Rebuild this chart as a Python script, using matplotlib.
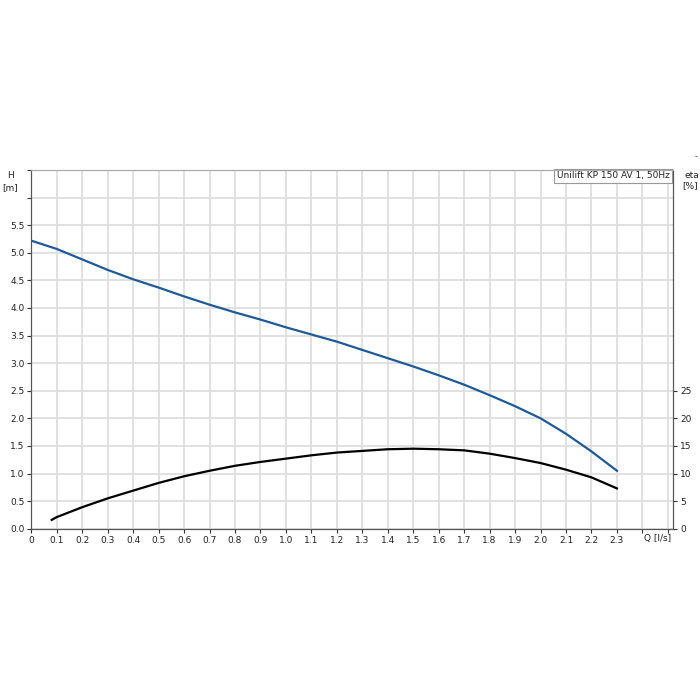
import matplotlib.pyplot as plt
import numpy as np

plt.rcParams['font.family'] = ['DejaVu Sans']

# flow Q [l/s]
q_head = [0.0, 0.1, 0.2, 0.3, 0.4, 0.5, 0.6, 0.7, 0.8, 0.9, 1.0, 1.1, 1.2,
          1.3, 1.4, 1.5, 1.6, 1.7, 1.8, 1.9, 2.0, 2.1, 2.2, 2.3]
# head H [m]
head = [5.22, 5.07, 4.88, 4.69, 4.52, 4.37, 4.21, 4.06, 3.92, 3.79, 3.65, 3.52, 3.39,
        3.24, 3.09, 2.94, 2.78, 2.61, 2.42, 2.22, 2.00, 1.72, 1.40, 1.05]

q_eta = [0.08, 0.1, 0.2, 0.3, 0.4, 0.5, 0.6, 0.7, 0.8, 0.9, 1.0, 1.1, 1.2,
         1.3, 1.4, 1.5, 1.6, 1.7, 1.8, 1.9, 2.0, 2.1, 2.2, 2.3]
# efficiency eta [%]
eta = [1.6, 2.1, 3.9, 5.5, 6.9, 8.3, 9.5, 10.5, 11.4, 12.1, 12.7, 13.3, 13.8,
       14.1, 14.4, 14.5, 14.4, 14.2, 13.6, 12.8, 11.9, 10.7, 9.3, 7.3]

x_ticks = [round(0.1 * i, 1) for i in range(26)]
x_labels = ['0'] + ['%.1f' % v for v in x_ticks[1:24]] + ['', '']
h_ticks = [0.5 * i for i in range(14)]
h_labels = ['%.1f' % v for v in h_ticks[:12]] + ['', '']
eta_ticks = [0, 5, 10, 15, 20, 25]

fig = plt.figure(figsize=(7, 7), dpi=100)
ax = fig.add_axes([0.0447, 0.2447, 0.9167, 0.5124])
ax2 = ax.twinx()

ax.set_xlim(0, 2.52)
ax.set_ylim(0, 6.5)
ax2.set_ylim(0, 65)

ax.set_xticks(x_ticks)
ax.set_xticklabels(x_labels)
ax.set_yticks(h_ticks)
ax.set_yticklabels(h_labels)
ax2.set_yticks(eta_ticks)

ax.grid(True, color='#dedede', linewidth=1.3)
ax.set_axisbelow(True)

ax.plot(q_head, head, color='#1f5a96', linewidth=1.6, solid_joinstyle='round')
ax2.plot(q_eta, eta, color='black', linewidth=1.6, solid_joinstyle='round')

for a in (ax, ax2):
    a.tick_params(labelsize=6.5, colors='#333333', length=3, width=0.8,
                  labelcolor='#222222', pad=2)
    a.spines['top'].set_color('#aaaaaa')
    a.spines['left'].set_color('#555555')
    a.spines['bottom'].set_color('#555555')
    a.spines['right'].set_color('#555555')

# axis captions
fig.text(10 / 700, 1 - 175 / 700, 'H', fontsize=6.5, ha='center', va='center', color='#222222')
fig.text(10 / 700, 1 - 188 / 700, '[m]', fontsize=6.5, ha='center', va='center', color='#222222')
fig.text(692 / 700, 1 - 175 / 700, 'eta', fontsize=6.5, ha='center', va='center', color='#222222')
fig.text(690 / 700, 1 - 186 / 700, '[%]', fontsize=6.5, ha='center', va='center', color='#222222')
fig.text(696 / 700, 1 - 157 / 700, '-', fontsize=6, ha='center', va='center', color='#444444')
ax.text(2.46, -0.0145, 'Q [l/s]', transform=ax.get_xaxis_transform(), fontsize=6.5,
        ha='center', va='top', color='#222222')

ax.text(0.9945, 0.996, 'Unilift KP 150 AV 1, 50Hz', transform=ax.transAxes,
        fontsize=6.5, ha='right', va='top', color='#222222', zorder=5,
        bbox=dict(boxstyle='square,pad=0.25', facecolor='white', edgecolor='#999999',
                  linewidth=0.8))

plt.savefig('out.png', dpi=100)
